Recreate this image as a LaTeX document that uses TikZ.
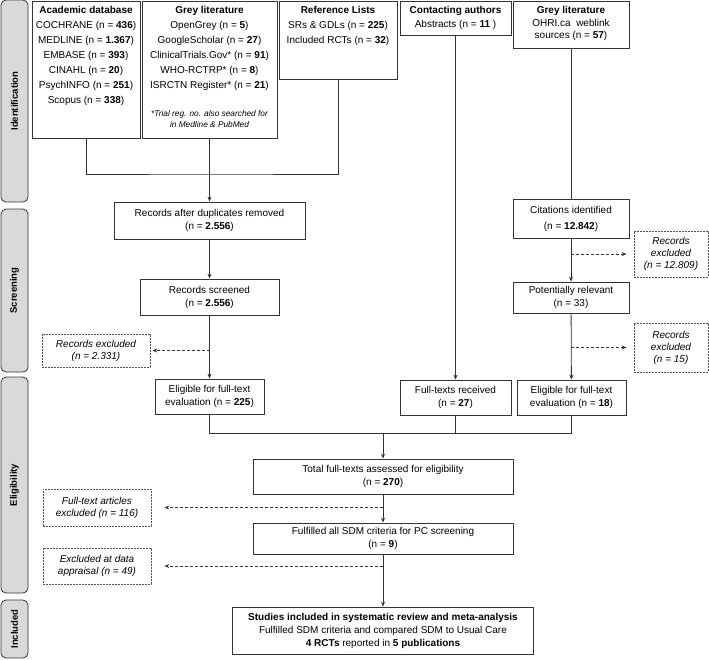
\documentclass[tikz,border=0pt]{standalone}
\usepackage{fontspec}
\setmainfont{Liberation Sans}
\usepackage{xcolor}
\usepackage{tikz}
\usetikzlibrary{positioning,arrows.meta}

\definecolor{linec}{RGB}{51,51,51}
\definecolor{phasefill}{RGB}{217,217,217}

\begin{document}
\begin{tikzpicture}[x=1pt,y=-1pt,>={Stealth[length=5pt,width=4pt]},line width=0.8pt,font=\fontsize{10}{13}\selectfont]

  
  \tikzstyle{box}=[draw=linec,align=center,inner sep=1pt]
  \tikzstyle{srcbox}=[draw=linec,anchor=north,inner sep=0pt]
  \tikzstyle{excl}=[draw=linec!85,dash pattern=on 2pt off 1pt,align=center,inner sep=1pt,font=\itshape\fontsize{10}{12}\selectfont]
  \tikzstyle{phase}=[draw=linec,fill=phasefill,rounded corners=5pt,rotate=90,minimum height=27pt,font=\bfseries\fontsize{9.5}{11}\selectfont]
  \tikzstyle{flow}=[draw=linec,->]
  \tikzstyle{drop}=[draw=linec,->,dash pattern=on 3pt off 2pt]

  \useasboundingbox (0,0) rectangle (709,659);

  
  \node[phase,minimum width=202pt] (ident) at (14.5,101) {Identification};
  \node[phase,minimum width=163pt] (screen) at (14.5,290.5) {Screening};
  \node[phase,minimum width=216pt] (elig) at (14.5,485) {Eligibility};
  \node[phase,minimum width=58pt] (incl) at (14.5,629) {Included};

  
  \node[srcbox] (acad) at (86,0.5) {\parbox[t][137pt][t]{108pt}{\centering\fontsize{10}{15}\selectfont
    \rule{0pt}{13pt}\textbf{Academic database}\\
    COCHRANE (n = \textbf{436})\\
    MEDLINE (n = \textbf{1.367})\\
    EMBASE (n = \textbf{393})\\
    CINAHL (n = \textbf{20})\\
    PsychINFO (n = \textbf{251})\\
    Scopus (n = \textbf{338})}};
  \node[srcbox] (greyA) at (209.5,0.5) {\parbox[t][137pt][t]{135pt}{\centering\fontsize{10}{15}\selectfont
    \rule{0pt}{13pt}\textbf{Grey literature}\\
    OpenGrey (n = \textbf{5})\\
    GoogleScholar (n = \textbf{27})\\
    ClinicalTrials.Gov* (n = \textbf{91})\\
    WHO-RCTRP* (n = \textbf{8})\\
    ISRCTN Register* (n = \textbf{21})\par\vspace{17pt}
    {\fontsize{8.3}{11}\selectfont\itshape *Trial reg. no. also searched for\\ in Medline \& PubMed\par}}};
  \node[srcbox] (refs) at (338,0.5) {\parbox[t][78.5pt][t]{118pt}{\centering\fontsize{10}{15}\selectfont
    \rule{0pt}{13pt}\textbf{Reference Lists}\\
    SRs \& GDLs (n = \textbf{225})\\
    Included RCTs (n = \textbf{32})}};
  \node[srcbox] (authors) at (455.5,0.5) {\parbox[t][34.5pt][t]{111pt}{\centering\fontsize{10}{13.5}\selectfont
    \rule{0pt}{13pt}\textbf{Contacting authors}\\
    Abstracts (n = \textbf{11} )}};
  \node[srcbox] (greyB) at (571,0.5) {\parbox[t][47.5pt][t]{116pt}{\centering\fontsize{10}{12.5}\selectfont
    \rule{0pt}{13pt}\textbf{Grey literature}\\
    OHRI.ca\ \ weblink\\
    sources (n = \textbf{57})}};

  
  \node[box,minimum width=191pt,minimum height=37pt] (dedup) at (209.5,220.5) {Records after duplicates removed\\(n = \textbf{2.556})};
  \node[box,minimum width=139pt,minimum height=36pt] (screened) at (209.5,297) {Records screened\\(n = \textbf{2.556})};
  \node[excl,minimum width=108pt,minimum height=33pt] (exclA) at (96,350.5) {Records excluded\\(n = 2.331)};
  \node[box,minimum width=109pt,minimum height=35pt] (fullA) at (209.5,396.5) {Eligible for full-text\\evaluation (n = \textbf{225})};

  
  \node[box,minimum width=116pt,minimum height=39pt] (cites) at (571,218.5) {Citations identified\\[3pt](n = \textbf{12.842})};
  \node[excl,minimum width=74pt,minimum height=46pt] (exclB) at (671,254) {Records\\excluded\\(n = 12.809)};
  \node[box,minimum width=116pt,minimum height=31pt] (relevant) at (571,297.5) {Potentially relevant\\(n = 33)};
  \node[excl,minimum width=74pt,minimum height=49pt] (exclC) at (671,347.5) {Records\\excluded\\(n = 15)};
  \node[box,minimum width=111pt,minimum height=35pt] (received) at (455.5,397.5) {Full-texts received\\(n = \textbf{27})};
  \node[box,minimum width=109pt,minimum height=35pt] (fullB) at (571.5,397.5) {Eligible for full-text\\evaluation (n = \textbf{18})};

  
  \node[box,minimum width=260pt,minimum height=35pt] (assessed) at (383,476.5) {Total full-texts assessed for eligibility\\(n = \textbf{270})};
  \node[excl,minimum width=108pt,minimum height=37pt] (exclD) at (97,507.5) {Full-text articles\\excluded (n = 116)};
  \node[box,minimum width=260pt,minimum height=31pt] (sdm) at (383,538.5) {Fulfilled all SDM criteria for PC screening\\(n = \textbf{9})};
  \node[excl,minimum width=108pt,minimum height=36pt] (exclE) at (97,566) {Excluded at data\\appraisal (n = 49)};
  \node[box,minimum width=301pt,minimum height=47pt] (final) at (383,630.5) {\textbf{Studies included in systematic review and meta-analysis}\\Fulfilled SDM criteria and compared SDM to Usual Care\\\textbf{4 RCTs} reported in \textbf{5 publications}};

  
  \coordinate (joinA) at (209.5,174);
  \coordinate (joinB) at (383,433);

  
  \draw[linec] (acad.south) |- (joinA) -| (refs.south);
  \draw[flow] (greyA.south) -- (dedup.north);
  \draw[flow] (dedup) -- (screened);
  \draw[flow] (screened) -- (fullA);
  \draw[drop,shorten >=2pt] (screened.south |- exclA.east) -- (exclA.east);

  \draw[linec] (greyB.south) -- (cites.north);
  \draw[flow] (cites) -- (relevant);
  \draw[drop,shorten >=7pt] (cites.south |- exclB.west) -- (exclB.west);
  \draw[flow] (relevant) -- (fullB);
  \draw[drop,shorten >=7pt] (relevant.south |- exclC.west) -- (exclC.west);
  \draw[flow] (authors.south) -- (received.north);

  \draw[linec] (fullA.south) |- (fullB.south |- joinB) -- (fullB.south);
  \draw[linec] (received.south) -- (received.south |- joinB);
  \draw[flow] (joinB) -- (assessed.north);
  \draw[flow] (assessed) -- (sdm);
  \draw[drop,shorten >=13pt] (assessed.south |- exclD.east) -- (exclD.east);
  \draw[flow] (sdm) -- (final);
  \draw[drop,shorten >=13pt] (sdm.south |- exclE.east) -- (exclE.east);

\end{tikzpicture}
\end{document}
